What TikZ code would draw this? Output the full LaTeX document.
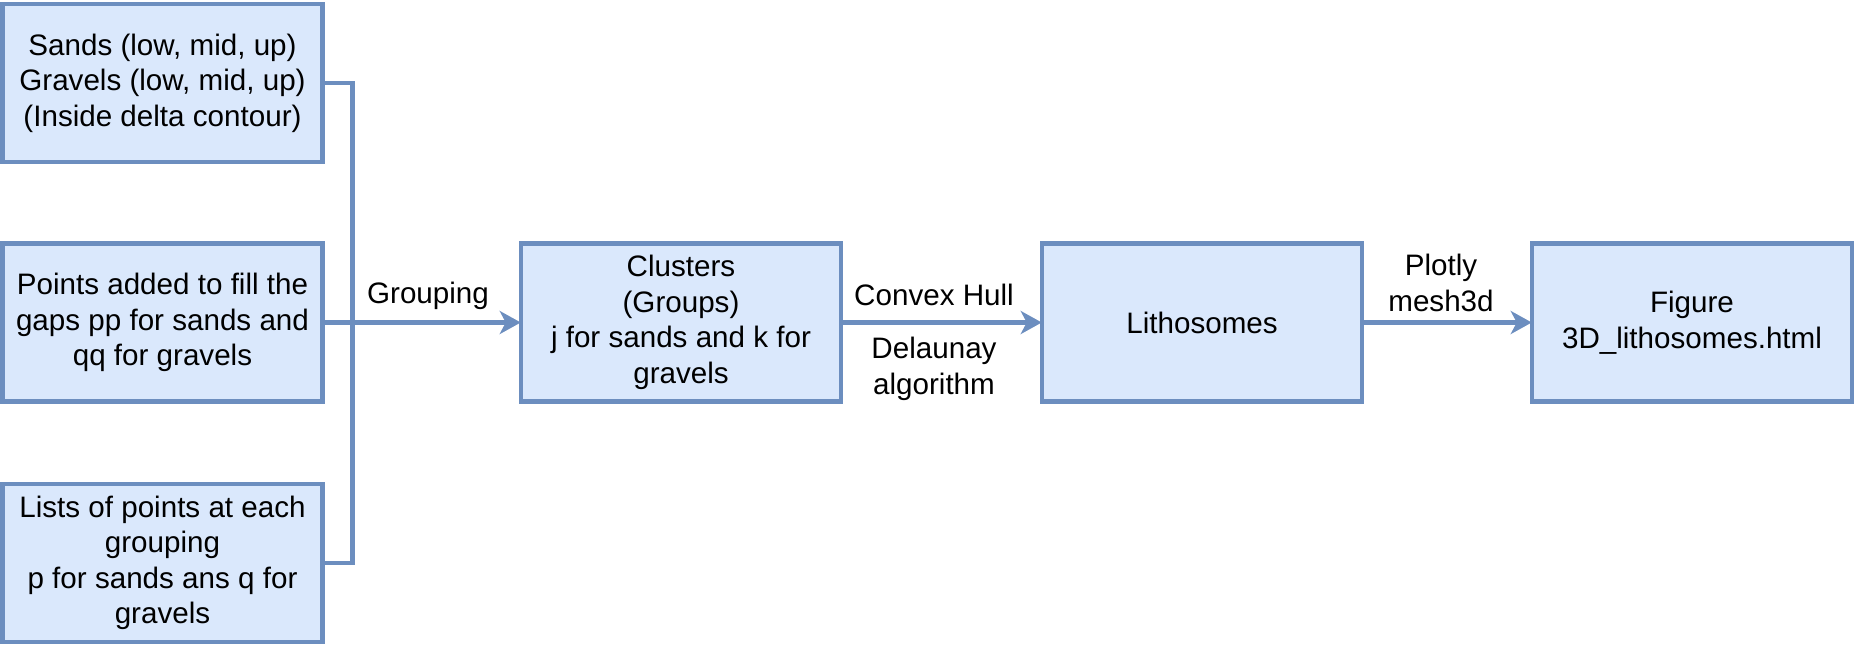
\documentclass[tikz,border=0pt]{standalone}
\usepackage{fontspec}
\setmainfont{Liberation Sans}
\usetikzlibrary{arrows.meta}
\definecolor{boxfill}{HTML}{DAE8FC}
\definecolor{boxline}{HTML}{6C8EBF}
\begin{document}
\begin{tikzpicture}[x=1pt,y=-1pt,
  procbox/.style={draw=boxline,fill=boxfill,line width=4.5pt,minimum width=320pt,minimum height=158pt,inner sep=0pt,align=center,font=\fontsize{29.6}{35.5}\selectfont},
  lbl/.style={align=center,inner sep=0pt,font=\fontsize{29.6}{35.5}\selectfont},
  conn/.style={draw=boxline,line width=4.5pt},
  arr/.style={conn,shorten >=-2pt,-{Stealth[length=21pt,width=23pt,inset=6pt]}}]
\useasboundingbox (0,0) rectangle (1855,645);
\node[procbox] (b1) at (162.5,83) {Sands (low, mid, up)\\Gravels (low, mid, up)\\(Inside delta contour)};
\node[procbox] (b2) at (162.5,322.5) {Points added to fill the\\gaps pp for sands and\\qq for gravels};
\node[procbox] (b3) at (162.5,563) {Lists of points at each\\grouping\\p for sands ans q for\\gravels};
\node[procbox] (cl) at (681,322.5) {Clusters\\(Groups)\\j for sands and k for\\gravels};
\node[procbox] (li) at (1202,322.5) {Lithosomes};
\node[procbox] (fi) at (1692,322.5) {Figure\\3D\_lithosomes.html};
\coordinate (j1) at (352.5,322.5);
\draw[conn] (b1.east) -| (j1);
\draw[conn] (b3.east) -| (j1);
\draw[arr] (b2.east) -- (cl.west);
\draw[arr] (cl.east) -- (li.west);
\draw[arr] (li.east) -- (fi.west);
\node[lbl] (g) at (428,296) {Grouping};
\node[lbl] (ch) at (934,295) {Convex Hull};
\node[lbl] (de) at (934,369) {Delaunay\\algorithm};
\node[lbl] (pl) at (1441,283) {Plotly\\mesh3d};
\end{tikzpicture}
\end{document}
